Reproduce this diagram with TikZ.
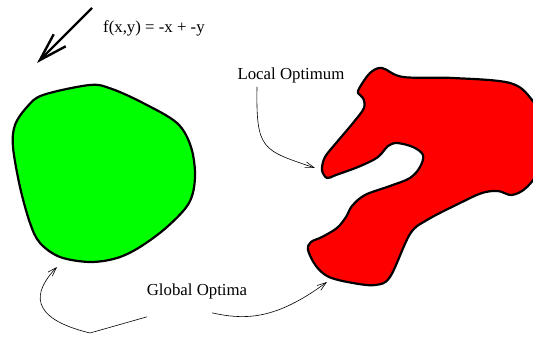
\documentclass[tikz,border=0pt]{standalone}
\usepackage{fontspec}
\setmainfont{Liberation Serif}
\usetikzlibrary{arrows.meta}
\definecolor{blobgreen}{RGB}{0,255,0}
\definecolor{blobred}{RGB}{255,0,0}
\tikzset{
  blob/.style={line width=2.2pt, line join=round},
  label/.style={font=\fontsize{16.8}{19}\selectfont, inner sep=1pt},
  pointer/.style={line width=0.6pt, -{Straight Barb[length=9pt,width=6pt]}}
}

\begin{document}
\begin{tikzpicture}[x=1pt, y=-1pt]
        % Frame of the page, same size as the reference
        \useasboundingbox (0,0) rectangle (533,337);
        \clip (0,0) rectangle (533,337);

        % Search direction
        \coordinate (dirtail) at (92,8);
        \coordinate (dirtip) at (37,63);
        \draw[line width=2.4pt, -{Straight Barb[length=28pt,width=17pt]}] (dirtail) -- (dirtip);
        \node[label, anchor=west] (fxy) at (102,28) {f(x,y) = -x + -y};

        % Convex region (green)
        \draw[blob, fill=blobgreen] plot[smooth cycle, tension=0.55] coordinates {
          (27,107) (43,95) (90,85) (112,89) (143,103) (177,123) (191,147) (195,177)
          (189,203) (167,227) (140,247) (117,258) (90,262) (60,257) (40,243)
          (30,223) (20,187) (13,147) (15,125)};

        % Non-convex region (red)
        \draw[blob, fill=blobred] plot[smooth cycle, tension=0.55] coordinates {
          (360,87) (370,73) (382,68) (403,77) (453,78) (510,83) (532,100) (548,130)
          (542,165) (527,187) (512,195) (498,191) (482,193) (460,203) (427,220)
          (410,234) (390,277) (375,285) (353,283) (329,277) (316,266) (308,250)
          (311,242) (322,237) (337,228) (346,217) (352,206) (365,195) (390,186)
          (410,178) (420,167) (423,155) (413,147) (397,143) (388,146) (382,153)
          (375,159) (358,167) (336,175) (327,178) (322,170) (325,157) (337,142)
          (353,123) (364,108) (363,98) (358,93)};

        % Labels
        \node[label] (local) at (291,75) {Local Optimum};
        \node[label] (global) at (197,291) {Global Optima};

        % Pointers to the optima
        \coordinate (localtip) at (315,168);
        \coordinate (greentip) at (57,267);
        \coordinate (redtip) at (327,282);
        \draw[pointer] ([xshift=-34pt,yshift=-3pt]local.south)
          .. controls (256,150) and (262,150) .. (localtip);
        \draw[pointer] ([xshift=-50pt,yshift=-17pt]global.south)
          -- (90,333) .. controls (28,318) and (33,292) .. (greentip);
        \draw[pointer] ([xshift=15pt,yshift=-13pt]global.south)
          .. controls (248,321) and (278,318) .. (redtip);

    \end{tikzpicture}
\end{document}
